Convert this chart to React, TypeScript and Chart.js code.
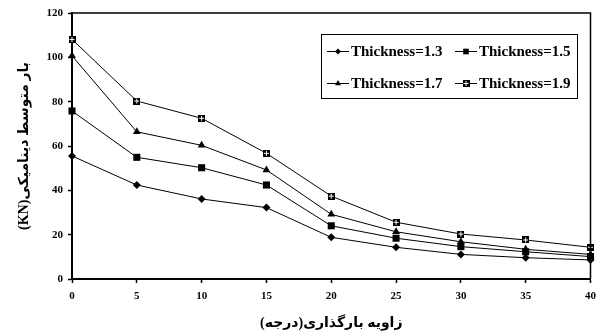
import React, { useEffect, useRef } from 'react';
import { Chart, registerables } from 'chart.js';
import { drawPoint } from 'chart.js/helpers';

Chart.register(...registerables);

// Loading angle (degrees)
const angles = [0, 5, 10, 15, 20, 25, 30, 35, 40];
// Mean dynamic load (KN) per thickness
const thickness13 = [55.5, 42.4, 36.1, 32.2, 18.8, 14.3, 11.1, 9.6, 8.6];
const thickness15 = [75.8, 54.9, 50.2, 42.4, 24.0, 18.4, 14.6, 12.3, 10.1];
const thickness17 = [100.7, 66.4, 60.3, 49.2, 29.2, 21.3, 16.8, 13.4, 11.1];
const thickness19 = [108.1, 80.3, 72.5, 56.7, 37.4, 25.6, 20.3, 17.6, 14.3];
const seriesLabels = ['Thickness=1.3', 'Thickness=1.5', 'Thickness=1.7', 'Thickness=1.9'];
const xTitle = 'زاویه بارگذاری(درجه)';
const yTitle = '\u202Bبار متوسط دینامیکی(KN)\u202C';

const FONT = "'Liberation Serif', 'Times New Roman', 'DejaVu Sans', serif";

function makeCrossSquare(): HTMLCanvasElement {
  const c = document.createElement('canvas');
  c.width = 7;
  c.height = 7;
  const g = c.getContext('2d')!;
  g.fillStyle = '#000';
  g.fillRect(0, 0, 7, 7);
  g.fillStyle = '#fff';
  g.fillRect(3, 1, 1, 5);
  g.fillRect(1, 3, 5, 1);
  return c;
}

export default function App() {
  const ref = useRef<HTMLCanvasElement>(null);

  useEffect(() => {
    if (!ref.current) return;
    const crossSq = makeCrossSquare();
    const mk = (vals: number[]) => vals.map((v, i) => ({ x: angles[i], y: v }));
    const styles: any[] = [
      { pointStyle: 'rectRot', radius: 4 },
      { pointStyle: 'rect', radius: 5 },
      { pointStyle: 'triangle', radius: 4.5 },
      { pointStyle: crossSq, radius: 4 },
    ];
    const all = [thickness13, thickness15, thickness17, thickness19];
    const datasets = all.map((vals, i) => ({
      label: seriesLabels[i],
      data: mk(vals),
      borderColor: '#000',
      backgroundColor: '#000',
      borderWidth: 1,
      pointStyle: styles[i].pointStyle,
      pointRadius: styles[i].radius,
      pointBorderWidth: 0,
      pointBackgroundColor: '#000',
      clip: false as any,
      tension: 0,
    }));

    const framePlugin = {
      id: 'frame',
      afterDraw(chart: any) {
        const { ctx, chartArea } = chart;
        ctx.save();
        ctx.strokeStyle = '#000';
        ctx.lineWidth = 1.5;
        ctx.beginPath();
        ctx.moveTo(chartArea.left, chartArea.top);
        ctx.lineTo(chartArea.right, chartArea.top);
        ctx.lineTo(chartArea.right, chartArea.bottom);
        ctx.stroke();

        // legend box
        const bx = 321, by = 34, bw = 256, bh = 64;
        ctx.fillStyle = '#fff';
        ctx.fillRect(bx, by, bw, bh);
        ctx.lineWidth = 1;
        ctx.strokeRect(bx + 0.5, by + 0.5, bw, bh);
        const order = [0, 1, 2, 3];
        const cols = [327, 455];
        const rows = [51, 83];
        ctx.font = `bold 15px ${FONT}`;
        ctx.textBaseline = 'middle';
        ctx.textAlign = 'left';
        order.forEach((di, k) => {
          const cx = cols[k % 2];
          const cy = rows[Math.floor(k / 2)];
          ctx.strokeStyle = '#000';
          ctx.lineWidth = 1;
          ctx.beginPath();
          ctx.moveTo(cx, cy + 0.5);
          ctx.lineTo(cx + 22, cy + 0.5);
          ctx.stroke();
          ctx.fillStyle = '#000';
          drawPoint(ctx, { pointStyle: styles[di].pointStyle, radius: styles[di].radius - 1, rotation: 0, borderWidth: 0 } as any, cx + 11, cy + 0.5);
          ctx.fillStyle = '#000';
          ctx.fillText(seriesLabels[di], cx + 24, cy + 1);
        });
        ctx.restore();
      },
    };

    const chart = new Chart(ref.current, {
      type: 'line',
      data: { datasets },
      plugins: [framePlugin],
      options: {
        animation: false,
        responsive: false,
        maintainAspectRatio: false,
        layout: { padding: { top: 13, right: 9, left: 0, bottom: 0 } },
        plugins: { legend: { display: false }, tooltip: { enabled: false }, title: { display: false } },
        scales: {
          x: {
            type: 'linear',
            min: 0,
            max: 40,
            afterFit: (s: any) => { s.height = 54; },
            ticks: { stepSize: 5, color: '#000', padding: 7, font: { family: FONT, size: 11, weight: 'bold' } },
            grid: { drawOnChartArea: false, drawTicks: true, tickLength: 4, color: '#000', tickWidth: 1.5 },
            border: { display: true, color: '#000', width: 2 },
            title: { display: true, text: xTitle, color: '#000', padding: { top: 0, bottom: 1 }, font: { family: FONT, size: 14, weight: 'bold' } },
          },
          y: {
            type: 'linear',
            min: 0,
            max: 120,
            afterFit: (s: any) => { s.width = 72; },
            ticks: { stepSize: 20, color: '#000', padding: 5, font: { family: FONT, size: 11, weight: 'bold' } },
            grid: { drawOnChartArea: false, drawTicks: true, tickLength: 4, color: '#000', tickWidth: 1.5 },
            border: { display: true, color: '#000', width: 2 },
            title: { display: true, text: yTitle, color: '#000', padding: { top: 16, bottom: 0 }, font: { family: FONT, size: 14, weight: 'bold' } },
          },
        },
      } as any,
    });
    return () => chart.destroy();
  }, []);

  return (
    <div style={{ position: 'fixed', left: 0, top: 0, width: 603, height: 333, background: '#fff' }}>
      <canvas ref={ref} width={603} height={333} style={{ display: 'block' }} />
    </div>
  );
}
